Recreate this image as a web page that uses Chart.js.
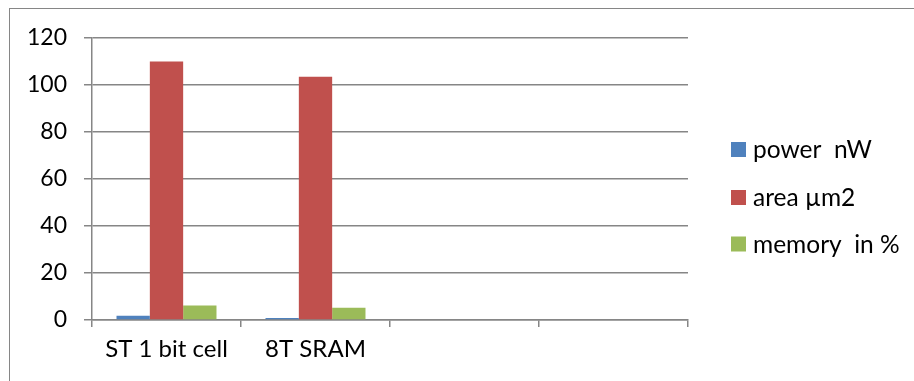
<!DOCTYPE html>
<html>
<head>
<meta charset="utf-8">
<script src="https://cdn.jsdelivr.net/npm/chart.js@4"></script>
<style>
  html, body { margin: 0; padding: 0; background: #fff; overflow: hidden; }
  #wrap { position: relative; width: 914px; height: 381px; overflow: hidden; }
  #frame { position: absolute; left: 9px; top: 8px; width: 1000px; height: 1000px;
           border: 1px solid #868686; box-sizing: border-box; }
  canvas { position: absolute; left: 0; top: 0; }
</style>
</head>
<body>
<div id="wrap">
  <div id="frame"></div>
  <canvas id="chart" width="914" height="381"></canvas>
</div>
<script>
// Chart data
const categories = ['ST 1 bit cell', '8T SRAM', '', ''];
const seriesNames = ['power  nW', 'area \u00b5m2', 'memory  in %'];
const powerNW = [1.8, 0.9, null, null];
const areaUm2 = [110, 103.5, null, null];
const memoryPct = [6.2, 5.2, null, null];
const yTickValues = [0, 20, 40, 60, 80, 100, 120];

const seriesColors = ['#4F81BD', '#C0504D', '#9BBB59'];
const axisGray = '#868686';
const fontFamily = 'Lato, "Open Sans", sans-serif';

// Legend drawn at the right of the plot, one row per dataset
const sideLegend = {
  id: 'sideLegend',
  afterDraw(chart) {
    const ctx = chart.ctx;
    const x = 731, box = 15, rowCenters = [149.5, 197.5, 244];
    ctx.save();
    ctx.font = '24.5px ' + fontFamily;
    ctx.textBaseline = 'alphabetic';
    ctx.textAlign = 'left';
    chart.data.datasets.forEach((ds, i) => {
      const cy = rowCenters[i];
      ctx.fillStyle = ds.backgroundColor;
      ctx.fillRect(x, cy - box / 2, box, box);
      ctx.fillStyle = '#000';
      ctx.fillText(ds.label, x + 22, cy + 8.5);
    });
    ctx.restore();
  }
};

const datasets = [powerNW, areaUm2, memoryPct].map((values, i) => ({
  label: seriesNames[i],
  data: values,
  backgroundColor: seriesColors[i],
  borderWidth: 0,
  categoryPercentage: 0.671,
  barPercentage: 1.0
}));

new Chart(document.getElementById('chart'), {
  type: 'bar',
  data: { labels: categories, datasets },
  plugins: [sideLegend],
  options: {
    responsive: false,
    devicePixelRatio: 1,
    animation: false,
    layout: { padding: { left: 0, top: 38, right: 226, bottom: 0 } },
    plugins: { legend: { display: false }, tooltip: { enabled: false } },
    scales: {
      x: {
        offset: true,
        grid: { display: true, drawOnChartArea: false, drawTicks: true, tickLength: 7,
                offset: true, color: axisGray, lineWidth: 1.5 },
        border: { display: true, color: axisGray, width: 1.5 },
        ticks: { color: '#000', font: { family: fontFamily, size: 24 }, padding: 8,
                 maxRotation: 0, autoSkip: false },
        afterFit(scale) { scale.height = 61; }
      },
      y: {
        min: 0,
        max: 120,
        afterBuildTicks(scale) { scale.ticks = yTickValues.map(v => ({ value: v })); },
        grid: { color: axisGray, lineWidth: 1.5, tickLength: 8, drawTicks: true },
        border: { display: true, color: axisGray, width: 1.5 },
        ticks: { color: '#000', font: { family: fontFamily, size: 23 }, padding: 17 },
        afterFit(scale) { scale.width = 92; }
      }
    }
  }
});
</script>
</body>
</html>
